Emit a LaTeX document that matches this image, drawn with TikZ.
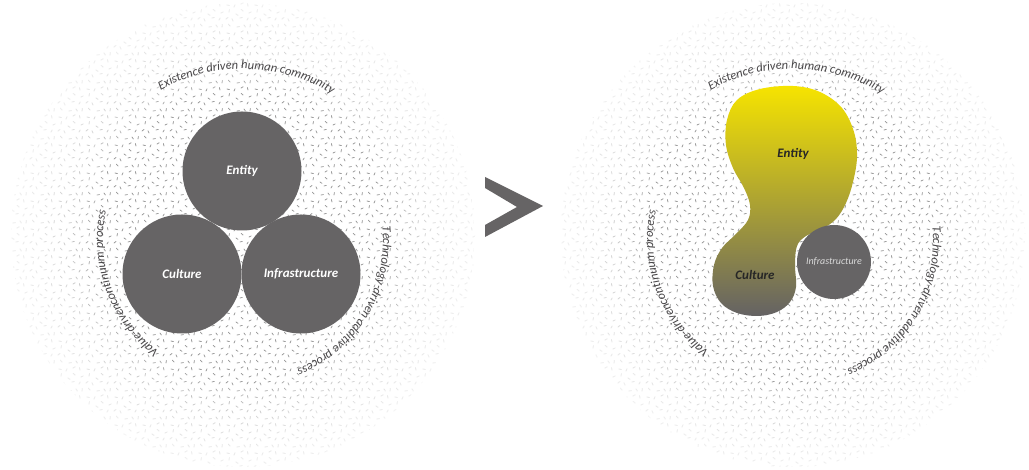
\documentclass[tikz,border=0pt]{standalone}
\usepackage{fontspec}
\setmainfont{Open Sans}
\newfontfamily\carl{Carlito}
\usetikzlibrary{patterns,decorations.text}

\definecolor{disk}{RGB}{102,100,101}
\definecolor{arctext}{RGB}{72,70,72}
\definecolor{stipc}{RGB}{150,150,150}
\definecolor{yel}{RGB}{246,228,0}
\definecolor{olive}{RGB}{180,172,100}
\definecolor{blobgrey}{RGB}{100,98,100}

\pgfdeclarepatternformonly{stip}{\pgfqpoint{-1pt}{-1pt}}{\pgfqpoint{29pt}{29pt}}{\pgfqpoint{28pt}{28pt}}{%
  \pgfsetlinewidth{0.75pt}\pgfsetroundcap
  \pgfpathmoveto{\pgfqpoint{2pt}{3pt}}\pgfpathlineto{\pgfqpoint{4pt}{4.5pt}}%
  \pgfpathmoveto{\pgfqpoint{9pt}{1pt}}\pgfpathlineto{\pgfqpoint{8pt}{3.2pt}}%
  \pgfpathmoveto{\pgfqpoint{16pt}{4pt}}\pgfpathlineto{\pgfqpoint{18.3pt}{4.6pt}}%
  \pgfpathmoveto{\pgfqpoint{23pt}{2pt}}\pgfpathlineto{\pgfqpoint{24.2pt}{4pt}}%
  \pgfpathmoveto{\pgfqpoint{5pt}{10pt}}\pgfpathlineto{\pgfqpoint{5.5pt}{12.4pt}}%
  \pgfpathmoveto{\pgfqpoint{12pt}{8pt}}\pgfpathlineto{\pgfqpoint{14pt}{6.6pt}}%
  \pgfpathmoveto{\pgfqpoint{19pt}{11pt}}\pgfpathlineto{\pgfqpoint{17.2pt}{12.6pt}}%
  \pgfpathmoveto{\pgfqpoint{25pt}{9pt}}\pgfpathlineto{\pgfqpoint{27.2pt}{10pt}}%
  \pgfpathmoveto{\pgfqpoint{3pt}{17pt}}\pgfpathlineto{\pgfqpoint{5.4pt}{16.4pt}}%
  \pgfpathmoveto{\pgfqpoint{10pt}{15pt}}\pgfpathlineto{\pgfqpoint{11pt}{17.2pt}}%
  \pgfpathmoveto{\pgfqpoint{17pt}{18pt}}\pgfpathlineto{\pgfqpoint{19.2pt}{19.2pt}}%
  \pgfpathmoveto{\pgfqpoint{24pt}{16pt}}\pgfpathlineto{\pgfqpoint{23.4pt}{18.4pt}}%
  \pgfpathmoveto{\pgfqpoint{6pt}{24pt}}\pgfpathlineto{\pgfqpoint{4.4pt}{25.8pt}}%
  \pgfpathmoveto{\pgfqpoint{13pt}{23pt}}\pgfpathlineto{\pgfqpoint{15.4pt}{23.4pt}}%
  \pgfpathmoveto{\pgfqpoint{20pt}{25pt}}\pgfpathlineto{\pgfqpoint{21.4pt}{23pt}}%
  \pgfpathmoveto{\pgfqpoint{26pt}{23pt}}\pgfpathlineto{\pgfqpoint{26.4pt}{25.4pt}}%
  \pgfusepath{stroke}}

\newcommand\arcfont{\carl\fontsize{12.5pt}{14pt}\selectfont\itshape\color{arctext}}

\tikzset{
  stipple/.style={pattern=stip, pattern color=stipc},
  fadering/.style={fill=white, opacity=0.2, even odd rule},
  diskfill/.style={circle, fill=disk, inner sep=0pt},
  disklabel/.style={text=white, font=\carl\fontsize{13pt}{15pt}\selectfont\itshape\bfseries},
  darklabel/.style={text=black!85, font=\carl\fontsize{13pt}{15pt}\selectfont\itshape\bfseries},
  arctxt/.style={decorate, decoration={text along path, text align=center}},
}

\begin{document}
\begin{tikzpicture}[x=1pt,y=1pt]
\useasboundingbox (0,0) rectangle (1029,470);
\fill[white] (0,0) rectangle (1029,470);

% ---------- stippled backgrounds ----------
\foreach \cx in {243,793} {
  \fill[stipple] (\cx,235) circle[radius=232];
  \foreach \r in {150,160,...,230}
    \fill[fadering] (\cx,235) circle[radius=240] (\cx,235) circle[radius=\r];
}

% ---------- left diagram ----------
\coordinate (C1) at (243,230);
\node[diskfill, minimum size=119pt] (entity) at (242,299) {};
\node[diskfill, minimum size=119pt] (culture) at (182,196) {};
\node[diskfill, minimum size=119pt] (infra) at (301,196) {};
\node[disklabel] (entityL) at (entity) {Entity};
\node[disklabel] (cultureL) at (culture) {Culture};
\node[disklabel] (infraL) at (infra) {Infrastructure};

\path[arctxt, decoration={text={|\arcfont|Existence driven human community}}]
  (C1) ++(138.75:171) arc[start angle=138.75, end angle=38.75, radius=171];
\path[arctxt, decoration={text={|\arcfont|Value-drivencontinuum process}}]
  (C1) ++(251:140) arc[start angle=251, end angle=150, radius=140];
\path[arctxt, decoration={text={|\arcfont|Technology-driven additive process}}]
  (C1) ++(20:140) arc[start angle=20, end angle=-82, radius=140];

% ---------- chevron ----------
\fill[disk] (485,293) -- (543,264) -- (485,233) -- (485,245) -- (517,263) -- (485,282) -- cycle;

% ---------- right diagram ----------
\coordinate (C2) at (793,230);
\shade[shading=axis, top color=yel, middle color=olive, bottom color=blobgrey]
  plot[smooth cycle, tension=0.6] coordinates {
  (793,384) (820,378) (842,362) (854,338) (857,313) (853,288) (846,267)
  (836,251) (822,241) (806,234) (797,224) (795,205) (796,183) (790,168)
  (777,158) (758,154) (737,157) (721,167) (713,184) (714,205) (722,222)
  (736,236) (748,250) (750,265) (744,282) (733,302) (726,325) (727,350)
  (737,370) (760,381)};
\node[darklabel] (entity2) at (793,316) {Entity};
\node[darklabel] (culture2) at (755,195) {Culture};
\node[diskfill, minimum size=74pt] (infra2) at (834,208) {};
\node[text=white!85!black, font=\carl\fontsize{10pt}{12pt}\selectfont\itshape] (infra2L) at (infra2) {Infrastructure};

\path[arctxt, decoration={text={|\arcfont|Existence driven human community}}]
  (C2) ++(138.75:171) arc[start angle=138.75, end angle=38.75, radius=171];
\path[arctxt, decoration={text={|\arcfont|Value-drivencontinuum process}}]
  (C2) ++(251:140) arc[start angle=251, end angle=150, radius=140];
\path[arctxt, decoration={text={|\arcfont|Technology-driven additive process}}]
  (C2) ++(20:140) arc[start angle=20, end angle=-82, radius=140];
\end{tikzpicture}
\end{document}
